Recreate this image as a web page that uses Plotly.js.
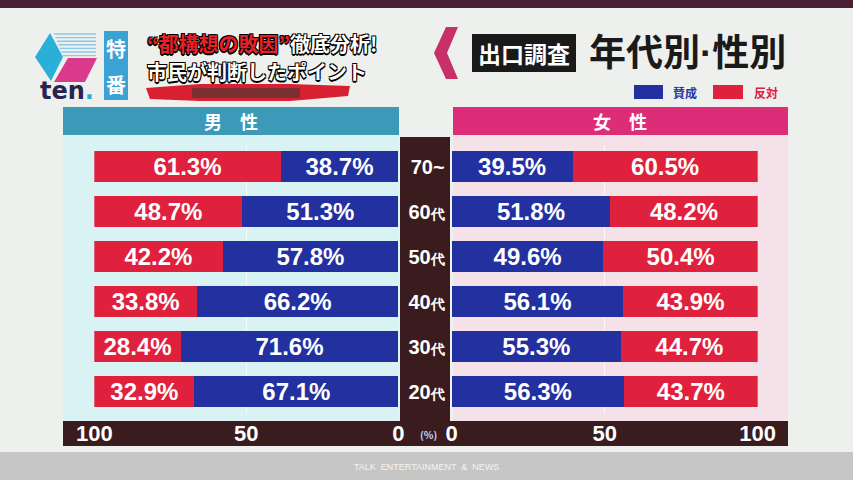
<!DOCTYPE html>
<html><head><meta charset="utf-8">
<script src="https://cdn.plot.ly/plotly-3.0.1.min.js"></script>
<style>html,body{margin:0;padding:0;background:#eef0ee;}#chart{width:853px;height:480px;}</style>
</head><body><div id="chart"></div>
<script>
// ---- data ----
const ages = ['20代', '30代', '40代', '50代', '60代', '70~'];
const ageLabels = ['20<span style="font-size:14px">代</span>', '30<span style="font-size:14px">代</span>', '40<span style="font-size:14px">代</span>', '50<span style="font-size:14px">代</span>', '60<span style="font-size:14px">代</span>', '70~'];
const maleYes = [67.1, 71.6, 66.2, 57.8, 51.3, 38.7];
const maleNo = [32.9, 28.4, 33.8, 42.2, 48.7, 61.3];
const femaleYes = [56.3, 55.3, 56.1, 49.6, 51.8, 39.5];
const femaleNo = [43.7, 44.7, 43.9, 50.4, 48.2, 60.5];
const xTicks = [0, 50, 100];
const xTickText = ['0', '50', '100'];
const seriesNames = ['賛成', '反対'];

const W = 853, H = 480;
const px = x => x / W, py = y => 1 - y / H;
const BLUE = '#2330a0', RED = '#e0213d', DARK = '#3a1c1f';
const JP = '"Noto Sans CJK JP", sans-serif';
const LAT = '"Liberation Sans", Arial, sans-serif';
const pct = v => v.toFixed(1) + '%';

function bar(vals, color, name, xa, ya) {
  return {
    type: 'bar', orientation: 'h', y: ages, x: vals, name: name,
    xaxis: xa, yaxis: ya,
    marker: {color: color, line: {width: 0}},
    text: vals.map(pct), textposition: 'inside', insidetextanchor: 'middle',
    textangle: 0, constraintext: 'none',
    textfont: {color: '#ffffff', size: 24, family: LAT, weight: 700},
    hoverinfo: 'skip', showlegend: false
  };
}

const data = [
  bar(maleYes, BLUE, seriesNames[0], 'x', 'y'),
  bar(maleNo, RED, seriesNames[1], 'x', 'y'),
  bar(femaleYes, BLUE, seriesNames[0], 'x2', 'y2'),
  bar(femaleNo, RED, seriesNames[1], 'x2', 'y2')
];

const yDom = [py(414), py(144.5)];
const xaxisCommon = {
  tickvals: xTicks, ticktext: xTickText, ticks: '',
  tickfont: {color: '#ffffff', size: 22, family: LAT, weight: 700},
  showgrid: true, gridcolor: 'rgba(255,255,255,0.7)', gridwidth: 1,
  zeroline: false, showline: false, fixedrange: true, ticklabelstandoff: 4
};

function rect(x0, y0, x1, y1, color) {
  return {type: 'rect', xref: 'paper', yref: 'paper', x0: px(x0), x1: px(x1), y0: py(y1), y1: py(y0),
          fillcolor: color, line: {width: 0}, layer: 'below'};
}
function path(pts, color, layer) {
  const d = pts.map((p, i) => (i ? 'L' : 'M') + px(p[0]).toFixed(5) + ',' + py(p[1]).toFixed(5)).join(' ') + ' Z';
  return {type: 'path', xref: 'paper', yref: 'paper', path: d, fillcolor: color, line: {width: 0}, layer: layer || 'below'};
}
function line(x0, y0, x1, y1, color, w) {
  return {type: 'line', xref: 'paper', yref: 'paper', x0: px(x0), y0: py(y0), x1: px(x1), y1: py(y1),
          line: {color: color, width: w}, layer: 'below'};
}

const shapes = [
  rect(0, 0, 853, 8, '#4a1f35'),
  rect(0, 452, 853, 480, '#c6c6c6'),
  rect(63, 135, 399, 421, '#d9f2f4'),
  rect(453, 135, 788, 421, '#f5e2e8'),
  rect(63, 107, 399, 135, '#3c9ab8'),
  rect(453, 107, 788, 135, '#de2d78'),
  rect(400, 137, 450, 446, DARK),
  rect(63, 421, 788, 446, DARK),
  // legend swatches
  rect(634, 85, 663, 99, BLUE),
  rect(713, 85, 743, 99, RED),
  // logo
  path([[35, 57], [50, 33], [63, 57], [51, 81]], '#2ab0d8'),
  path([[68, 58], [97, 58], [85, 82], [54, 82]], '#d93a8c'),
  // 特番 box
  rect(104, 31, 128, 100, '#3aa2d4'),
  // red scribble
  path([[146, 88], [200, 84], [290, 84], [350, 86], [348, 96], [290, 101], [200, 101], [150, 99]], '#d82030'),
  rect(192, 88, 300, 98, '#7a3030'),
  // chevron
  path([[458, 27], [446, 27], [434, 53], [446, 79], [458, 79], [447, 53]], '#c8306a'),
  // 出口調査 box
  rect(472, 34, 576, 72, '#1a1a1a')
];
for (let i = 0; i < 7; i++) {
  const y = 34 + i * 3.6;
  shapes.push(line(54 + i * 1.5, y, 96, y, '#8ec8e8', 1.4));
}

function ann(x, y, text, size, color, opts) {
  return Object.assign({
    xref: 'paper', yref: 'paper', x: px(x), y: py(y), text: text, showarrow: false,
    xanchor: 'center', yanchor: 'middle',
    font: {size: size, color: color, family: JP, weight: 700}
  }, opts || {});
}
const outline = '-1px -1px 0 #000, 1px -1px 0 #000, -1px 1px 0 #000, 1px 1px 0 #000, 0 2px 0 #000';

const annotations = [
  ann(231, 121, '男　性', 18, '#ffffff'),
  ann(620, 121, '女　性', 18, '#ffffff'),
  ann(428, 434, '(%)', 10, '#c8d8ff'),
  ann(524, 53, '出口調査', 23, '#ffffff'),
  ann(687, 50, '年代別<span style="font-family:Liberation Sans">·</span>性別', 37, '#1a1a1a'),
  ann(685, 92, seriesNames[0], 12, '#2a3aa0'),
  ann(766, 92, seriesNames[1], 12, '#e02040'),
  ann(116, 49, '特', 20, '#ffffff'),
  ann(116, 84, '番', 20, '#ffffff'),
  ann(67, 91, 'ten<span style="color:#2ab0d8">.</span>', 24, '#2a2350', {font: {size: 24, color: '#2a2350', family: '"DejaVu Sans", sans-serif', weight: 700}}),
  ann(145, 43, '<span style="color:#e8202a">“都構想の敗因”</span>徹底分析!', 20, '#ffffff',
      {xanchor: 'left', font: {size: 20, color: '#ffffff', family: JP, weight: 700, shadow: outline}}),
  ann(145, 71, '市民が判断したポイント', 20, '#ffffff',
      {xanchor: 'left', font: {size: 20, color: '#ffffff', family: JP, weight: 700, shadow: outline}}),
  ann(426, 467, 'TALK  ENTERTAINMENT  &  NEWS', 9, '#f4f4f4', {font: {size: 9, color: '#f4f4f4', family: LAT, weight: 400}})
];

const layout = {
  width: W, height: H, margin: {l: 0, r: 0, t: 0, b: 0},
  paper_bgcolor: '#eef0ee', plot_bgcolor: 'rgba(0,0,0,0)',
  barmode: 'stack', bargap: 0.31, showlegend: false,
  uniformtext: {minsize: 24, mode: 'show'},
  xaxis: Object.assign({}, xaxisCommon, {domain: [px(94.3), px(398.3)], range: [100, 0], anchor: 'y'}),
  yaxis: {domain: yDom, anchor: 'x', showticklabels: false, showgrid: false, zeroline: false,
          categoryorder: 'array', categoryarray: ages, fixedrange: true},
  xaxis2: Object.assign({}, xaxisCommon, {domain: [px(451.7), px(757.7)], range: [0, 100], anchor: 'y2'}),
  yaxis2: {domain: yDom, anchor: 'x2', showgrid: false, zeroline: false, ticks: '',
           categoryorder: 'array', categoryarray: ages, tickvals: ages, ticktext: ageLabels,
           tickfont: {color: '#ffffff', size: 20, family: LAT, weight: 700},
           ticklabelstandoff: 6, fixedrange: true},
  shapes: shapes, annotations: annotations
};

Plotly.newPlot('chart', data, layout, {displayModeBar: false, staticPlot: true});
</script></body></html>
